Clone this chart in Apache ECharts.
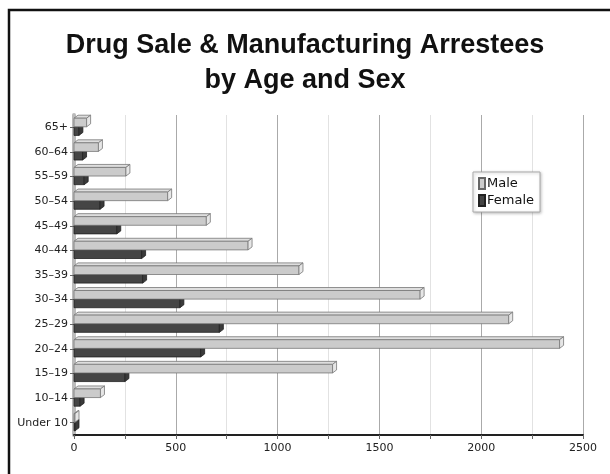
<!DOCTYPE html>
<html><head><meta charset="utf-8">
<script src="https://cdn.jsdelivr.net/npm/echarts@6/dist/echarts.min.js"></script>
<style>html,body{margin:0;padding:0;background:#fff}#c{width:610px;height:474px}</style>
</head><body><div id="c"></div>
<script>
const categories = ['Under 10','10–14','15–19','20–24','25–29','30–34','35–39','40–44','45–49','50–54','55–59','60–64','65+'];
const male   = [3, 130, 1270, 2385, 2135, 1700, 1105, 855, 650, 460, 255, 120, 62];
const female = [1, 30, 250, 622, 714, 520, 337, 332, 210, 128, 50, 42, 24];
const seriesNames = ['Male', 'Female'];
const xTicks = [0, 500, 1000, 1500, 2000, 2500];

function makeRender(upper, face, top, side, stroke) {
  return function (params, api) {
    const v = api.value(0), c = api.value(1);
    const p0 = api.coord([0, c]);
    const p1 = api.coord([v, c]);
    const band = api.size([0, 1])[1];
    const h = band * 0.35;
    const y0 = upper ? p0[1] - h - 0.5 : p0[1] - 0.5;
    const x0 = p0[0], x1 = Math.max(p1[0], x0 + 1);
    const dx = 4, dy = 3;
    const st = { stroke: stroke, lineWidth: 0.8 };
    return {
      type: 'group',
      children: [
        { type: 'polygon', shape: { points: [[x0, y0], [x0 + dx, y0 - dy], [x1 + dx, y0 - dy], [x1, y0]] }, style: Object.assign({ fill: top }, st) },
        { type: 'rect', shape: { x: x0, y: y0, width: x1 - x0, height: h }, style: Object.assign({ fill: face }, st) },
        { type: 'polygon', shape: { points: [[x1, y0], [x1 + dx, y0 - dy], [x1 + dx, y0 + h - dy], [x1, y0 + h]] }, style: Object.assign({ fill: side }, st) }
      ]
    };
  };
}

const chart = echarts.init(document.getElementById('c'), null, { renderer: 'canvas' });
chart.setOption({
  animation: false,
  backgroundColor: '#fff',
  title: {
    text: 'Drug Sale & Manufacturing Arrestees\nby Age and Sex',
    left: 'center', top: 23,
    textStyle: { fontFamily: 'Liberation Sans', fontWeight: 'bold', fontSize: 27, lineHeight: 35, color: '#111' }
  },
  graphic: [
    { type: 'rect', shape: { x: 9, y: 10, width: 640, height: 500 }, style: { fill: 'none', stroke: '#111', lineWidth: 2.5 }, silent: true }
  ],
  legend: {
    data: seriesNames, orient: 'vertical', left: 473, top: 172,
    itemWidth: 6, itemHeight: 11, itemGap: 4, padding: [5, 6, 5, 5],
    backgroundColor: '#fff', borderColor: '#aaa', borderWidth: 1,
    shadowColor: 'rgba(0,0,0,0.25)', shadowBlur: 3, shadowOffsetX: 1, shadowOffsetY: 1,
    icon: 'rect',
    textStyle: { fontFamily: 'DejaVu Sans', fontSize: 13, color: '#111', padding: [0, 0, 0, -3] }
  },
  grid: { left: 74, right: 27, top: 115, bottom: 39, containLabel: false },
  xAxis: {
    type: 'value', min: 0, max: 2500, interval: 250,
    axisLine: { show: true, lineStyle: { color: '#222', width: 2 } },
    axisTick: { show: true, length: 4, lineStyle: { color: '#666' } },
    axisLabel: { fontFamily: 'DejaVu Sans', fontSize: 11, color: '#222', margin: 8,
      formatter: function (v) { return xTicks.indexOf(v) >= 0 ? String(v) : ''; } },
    splitLine: { show: true, lineStyle: { color: ['#aaa', '#e2e2e2'], width: 1 } }
  },
  yAxis: {
    type: 'category', data: categories,
    axisLine: { show: true, lineStyle: { color: '#bbb', width: 4 } },
    axisTick: { show: true, alignWithLabel: true, length: 4, lineStyle: { color: '#666' } },
    axisLabel: { fontFamily: 'DejaVu Sans', fontSize: 11, color: '#222', margin: 6 }
  },
  series: [
    {
      name: 'Female', type: 'custom', z: 2,
      itemStyle: { color: '#454545', borderColor: '#222', borderWidth: 0.8 },
      encode: { x: 0, y: 1 },
      data: female.map(function (v, i) { return [v, i]; }),
      renderItem: makeRender(false, '#454545', '#5a5a5a', '#3a3a3a', '#222')
    },
    {
      name: 'Male', type: 'custom', z: 3,
      itemStyle: { color: '#cbcbcb', borderColor: '#666', borderWidth: 0.8 },
      encode: { x: 0, y: 1 },
      data: male.map(function (v, i) { return [v, i]; }),
      renderItem: makeRender(true, '#cbcbcb', '#dedede', '#e6e6e6', '#777')
    }
  ]
});
</script></body></html>
